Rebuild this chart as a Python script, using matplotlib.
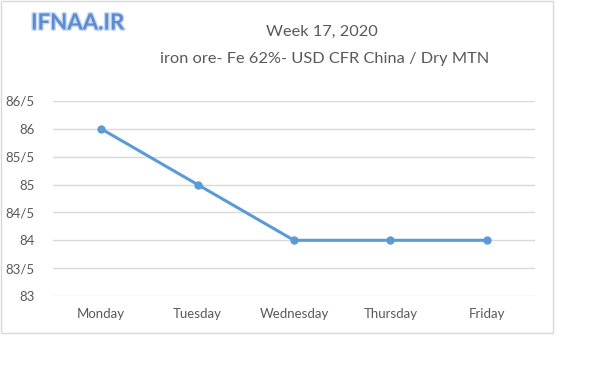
import matplotlib
matplotlib.use('Agg')
from matplotlib import pyplot as plt
from matplotlib import patheffects as pe
from matplotlib.patches import Rectangle

days = ['Monday', 'Tuesday', 'Wednesday', 'Thursday', 'Friday']
price = [86, 85, 84, 84, 84]
yticks = [83, 83.5, 84, 84.5, 85, 85.5, 86, 86.5]
ytick_labels = ['83', '83/5', '84', '84/5', '85', '85/5', '86', '86/5']

plt.rcParams['font.family'] = ['Lato', 'DejaVu Sans']
grey = '#595959'

fig = plt.figure(figsize=(6, 3.66), dpi=100)
ax = fig.add_axes([53/600, 1 - 296/366, (535 - 53)/600, (296 - 101)/366])

x = list(range(len(days)))
ax.plot(x, price, color='#5B9BD5', lw=2.2, marker='o', ms=5, zorder=3)

ax.set_xlim(-0.5, len(days) - 0.5)
ax.set_ylim(83, 86.5)
ax.set_yticks(yticks)
ax.set_yticklabels(ytick_labels)
ax.set_xticks(x)
ax.set_xticklabels(days)
ax.grid(axis='y', color='#d9d9d9', lw=1)
ax.set_axisbelow(True)
for s in ax.spines.values():
    s.set_visible(False)
ax.tick_params(length=0, labelsize=9.5, colors=grey, pad=12)
ax.tick_params(axis='y', pad=13)
ax.tick_params(axis='x', pad=9)

# outer chart border
fig.patches.append(Rectangle((1/600, 1 - 333/366), 552/600, 332/366,
                             transform=fig.transFigure, fill=False,
                             edgecolor='#d9d9d9', lw=1))

fig.text(322/600, 1 - 32/366, 'Week 17, 2020', ha='center', va='center',
         fontsize=11.8, color=grey)
fig.text(325/600, 1 - 59/366, 'iron ore- Fe 62%- USD CFR China / Dry MTN',
         ha='center', va='center', fontsize=11.8, color=grey)

fig.text(31/600, 1 - 23/366, 'IFNAA.IR', ha='left', va='center',
         fontsize=16, fontweight='bold', color='#5b8bd0',
         path_effects=[pe.withStroke(linewidth=2, foreground='#c8d8ee')])

fig.savefig('out.png', dpi=100)
